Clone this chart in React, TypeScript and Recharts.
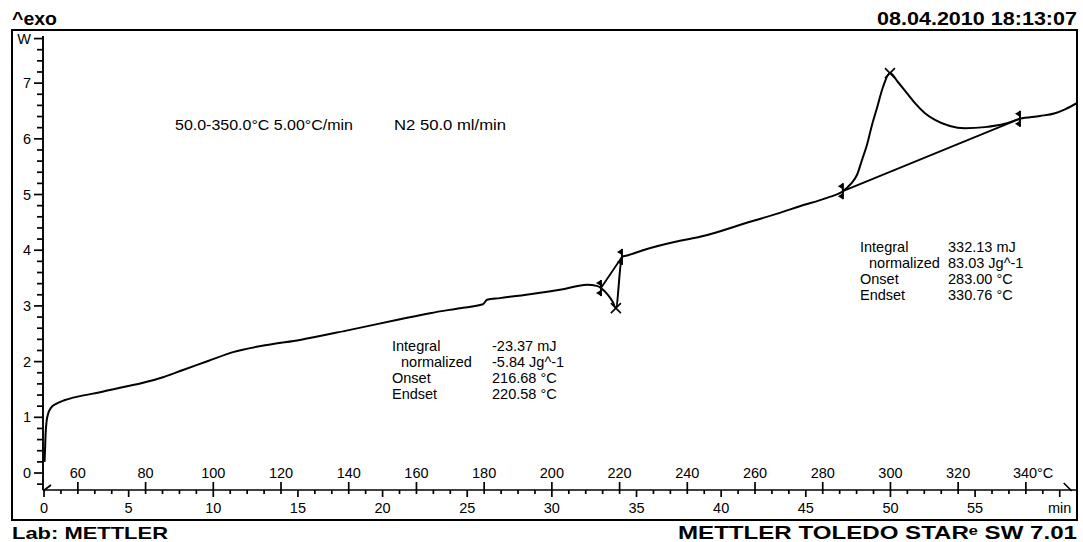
import React from 'react';
import { LineChart, Line, XAxis, YAxis, ReferenceLine, ReferenceDot } from 'recharts';

// DSC curve: time (min) vs heat flow (W)
const timeMin = [
  0.03, 0.06, 0.09, 0.15, 0.24, 0.41, 0.71, 1.24, 2.13, 3.31,
  4.49, 5.85, 7.03, 8.21, 9.69, 11.16, 13.17, 15.12, 18.07, 21.03,
  22.8, 24.57, 25.93, 26.17, 26.93, 28.7, 30.66, 32.07, 32.66, 32.9,
  33.31, 33.6, 33.78, 34.14, 34.5, 35.38, 37.57, 38.75, 41.7, 43.47,
  44.65, 46.25, 47.19, 47.66, 48.02, 48.32, 48.61, 48.91, 49.2, 49.56,
  49.97, 50.44, 50.97, 51.45, 52.04, 52.63, 53.51, 54.4, 55.58, 56.76,
  57.65, 58.83, 59.72, 60.31, 61.0,
];
const heatFlowW = [
  0.2, 0.41, 0.68, 0.92, 1.06, 1.17, 1.24, 1.31, 1.38, 1.45,
  1.53, 1.62, 1.72, 1.85, 2.01, 2.17, 2.3, 2.39, 2.57, 2.76,
  2.87, 2.96, 3.03, 3.11, 3.14, 3.21, 3.3, 3.38, 3.36, 3.32,
  3.2, 3.07, 2.96, 3.88, 3.91, 4.0, 4.17, 4.24, 4.51, 4.67,
  4.79, 4.94, 5.06, 5.19, 5.35, 5.62, 5.89, 6.25, 6.55, 6.93,
  7.18, 7.02, 6.82, 6.64, 6.46, 6.34, 6.23, 6.19, 6.21, 6.27,
  6.36, 6.41, 6.46, 6.53, 6.64,
];

// evaluation markers (time, W)
const onsetMarks = [
  { t: 32.9, w: 3.32 },
  { t: 47.19, w: 5.06 },
];
const endsetMarks = [
  { t: 34.14, w: 3.88 },
  { t: 57.65, w: 6.36 },
];
const extremumMarks = [
  { t: 33.78, w: 2.96 },
  { t: 49.97, w: 7.18 },
];

// axis labels
const timeLabels = [0, 5, 10, 15, 20, 25, 30, 35, 40, 45, 50, 55];
const tempLabels = [60, 80, 100, 120, 140, 160, 180, 200, 220, 240, 260, 280, 300, 320, 340];
const wLabels = [0, 1, 2, 3, 4, 5, 6, 7];
const START_TEMP = 50;
const HEAT_RATE = 5;

const table1Labels = ['Integral', 'normalized', 'Onset', 'Endset'];
const table1Values = ['-23.37 mJ', '-5.84 Jg^-1', '216.68 °C', '220.58 °C'];
const table2Labels = ['Integral', 'normalized', 'Onset', 'Endset'];
const table2Values = ['332.13 mJ', '83.03 Jg^-1', '283.00 °C', '330.76 °C'];

const data = timeMin.map((t, i) => ({ t, w: heatFlowW[i] }));
const minuteTicks = Array.from({ length: 61 }, (_, i) => i);
const wTicks = Array.from({ length: 41 }, (_, i) => (i - 1) / 5);

const FONT = "'Liberation Sans', Arial, Helvetica, sans-serif";
const AXIS_FS = 14.5;

const TimeTick = (props: any) => {
  const { x, y, payload } = props;
  const t = payload.value as number;
  const isFive = t % 5 === 0;
  const temp = START_TEMP + HEAT_RATE * t;
  const hasTemp = tempLabels.includes(temp);
  return (
    <g>
      <line x1={x} x2={x} y1={y} y2={y + (isFive ? 7 : 4)} stroke="#000" strokeWidth={1.7} />
      {hasTemp && <line x1={x} x2={x} y1={y - 8} y2={y} stroke="#000" strokeWidth={1.7} />}
      {isFive && timeLabels.includes(t) && (
        <text x={x} y={y + 23} textAnchor="middle" fontSize={AXIS_FS} fontFamily={FONT} fill="#000">
          {t}
        </text>
      )}
      {t === 60 && (
        <g>
          <text x={x} y={y + 23} textAnchor="middle" fontSize={AXIS_FS} fontFamily={FONT} fill="#000">
            min
          </text>
          <line x1={x + 4} y1={y - 7} x2={x + 12} y2={y + 1} stroke="#000" strokeWidth={1.7} />
        </g>
      )}
      {t === 0 && <line x1={x - 1} y1={y + 1} x2={x + 7} y2={y - 5} stroke="#000" strokeWidth={1.7} />}
      {hasTemp &&
        (temp === 340 ? (
          <text x={x - 13} y={y - 12} textAnchor="start" fontSize={AXIS_FS} fontFamily={FONT} fill="#000">
            340°C
          </text>
        ) : (
          <text x={x} y={y - 12} textAnchor="middle" fontSize={AXIS_FS} fontFamily={FONT} fill="#000">
            {temp}
          </text>
        ))}
    </g>
  );
};

const WTick = (props: any) => {
  const { x, y, payload } = props;
  const v = payload.value as number;
  const rounded = Math.round(v);
  const isMajor = Math.abs(v - rounded) < 1e-6 && wLabels.includes(rounded);
  const isTop = Math.abs(v - 7.8) < 1e-6;
  const len = isMajor || isTop ? 9 : 6;
  return (
    <g>
      <line x1={x - len} x2={x} y1={y} y2={y} stroke="#000" strokeWidth={1.7} />
      {isMajor && (
        <text x={x - 12} y={y + 5} textAnchor="end" fontSize={AXIS_FS} fontFamily={FONT} fill="#000">
          {rounded}
        </text>
      )}
      {isTop && (
        <text x={x - 12} y={y + 5} textAnchor="end" fontSize={AXIS_FS} fontFamily={FONT} fill="#000">
          W
        </text>
      )}
    </g>
  );
};

const BoundaryMark = (props: any) => {
  const { cx, cy } = props;
  if (cx == null || cy == null) return <g />;
  return (
    <g>
      <line x1={cx} x2={cx} y1={cy - 8} y2={cy + 8} stroke="#000" strokeWidth={2} />
      <polygon points={`${cx},${cy - 8} ${cx},${cy - 2} ${cx - 5},${cy - 5}`} fill="#000" />
      <polygon points={`${cx},${cy + 2} ${cx},${cy + 8} ${cx - 5},${cy + 5}`} fill="#000" />
    </g>
  );
};

const CrossMark = (props: any) => {
  const { cx, cy } = props;
  if (cx == null || cy == null) return <g />;
  const s = 5;
  return (
    <g>
      <line x1={cx - s} y1={cy - s} x2={cx + s} y2={cy + s} stroke="#000" strokeWidth={1.6} />
      <line x1={cx - s} y1={cy + s} x2={cx + s} y2={cy - s} stroke="#000" strokeWidth={1.6} />
    </g>
  );
};

const Table = ({ x, vx, y, labels, values }: any) => (
  <g fontFamily={FONT} fontSize={14.5} fill="#000">
    {labels.map((l: string, i: number) => (
      <text key={'l' + i} x={l === 'normalized' ? x + 9 : x} y={y + i * 16}>
        {l}
      </text>
    ))}
    {values.map((v: string, i: number) => (
      <text key={'v' + i} x={vx} y={y + i * 16}>
        {v}
      </text>
    ))}
  </g>
);

export default function App() {
  return (
    <div style={{ position: 'absolute', left: 0, top: 0, width: 1083, height: 542, background: '#fff' }}>
      <LineChart
        width={1083}
        height={542}
        data={data}
        margin={{ top: 36, right: 6, bottom: 22, left: 12 }}
      >
        <XAxis
          type="number"
          dataKey="t"
          domain={[-0.06, 61.02]}
          allowDataOverflow
          ticks={minuteTicks}
          interval={0}
          height={30}
          tickSize={0}
          tickMargin={0}
          tickLine={false}
          axisLine={{ stroke: '#000', strokeWidth: 1.7 }}
          tick={<TimeTick />}
        />
        <YAxis
          type="number"
          domain={[-0.305, 7.846]}
          allowDataOverflow
          ticks={wTicks}
          interval={0}
          width={31}
          tickSize={0}
          tickMargin={0}
          tickLine={false}
          axisLine={{ stroke: '#000', strokeWidth: 1.9 }}
          tick={<WTick />}
        />
        {onsetMarks.map((m, i) => (
          <ReferenceLine
            key={'bl' + i}
            segment={[
              { x: m.t, y: m.w },
              { x: endsetMarks[i].t, y: endsetMarks[i].w },
            ]}
            stroke="#000"
            strokeWidth={1.8}
          />
        ))}
        <Line
          type="monotoneX"
          dataKey="w"
          stroke="#000"
          strokeWidth={2}
          dot={false}
          isAnimationActive={false}
        />
        {onsetMarks.map((m, i) => (
          <ReferenceDot key={'on' + i} x={m.t} y={m.w} r={1} shape={<BoundaryMark />} />
        ))}
        {endsetMarks.map((m, i) => (
          <ReferenceDot key={'en' + i} x={m.t} y={m.w} r={1} shape={<BoundaryMark />} />
        ))}
        {extremumMarks.map((m, i) => (
          <ReferenceDot key={'ex' + i} x={m.t} y={m.w} r={1} shape={<CrossMark />} />
        ))}
      </LineChart>
      <svg
        width={1083}
        height={542}
        style={{ position: 'absolute', left: 0, top: 0, pointerEvents: 'none' }}
      >
        <rect x={12} y={30} width={1065} height={490} fill="none" stroke="#000" strokeWidth={2} />
        <text x={12} y={25} fontFamily={FONT} fontWeight="bold" fontSize={18} fill="#000" textLength={45} lengthAdjust="spacingAndGlyphs">
          ^exo
        </text>
        <text x={877} y={25} fontFamily={FONT} fontWeight="bold" fontSize={18} fill="#000" textLength={200} lengthAdjust="spacingAndGlyphs">
          08.04.2010 18:13:07
        </text>
        <text x={12} y={539} fontFamily={FONT} fontWeight="bold" fontSize={17} fill="#000" textLength={156} lengthAdjust="spacingAndGlyphs">
          Lab: METTLER
        </text>
        <text x={678} y={539} fontFamily={FONT} fontWeight="bold" fontSize={18} fill="#000" textLength={399} lengthAdjust="spacingAndGlyphs">
          METTLER TOLEDO STARᵉ SW 7.01
        </text>
        <text x={175} y={130} fontFamily={FONT} fontSize={14.5} fill="#000" textLength={178} lengthAdjust="spacingAndGlyphs">
          50.0-350.0°C 5.00°C/min
        </text>
        <text x={394} y={130} fontFamily={FONT} fontSize={14.5} fill="#000" textLength={112} lengthAdjust="spacingAndGlyphs">
          N2 50.0 ml/min
        </text>
        <Table x={392} vx={492} y={351} labels={table1Labels} values={table1Values} />
        <Table x={860} vx={948} y={252} labels={table2Labels} values={table2Values} />
      </svg>
    </div>
  );
}
